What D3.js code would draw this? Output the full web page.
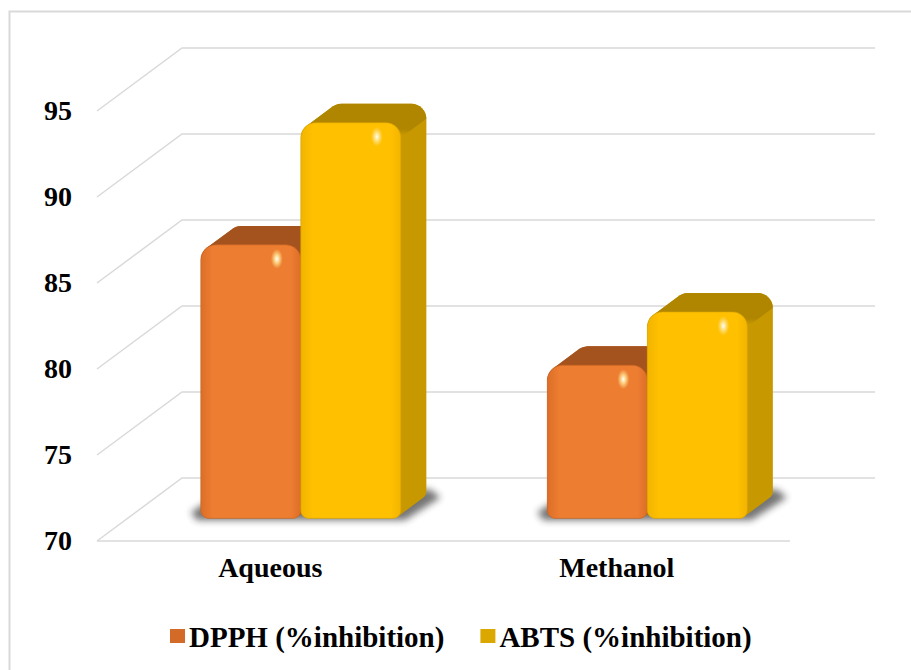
<!DOCTYPE html>
<html>
<head>
<meta charset="utf-8">
<script src="https://cdn.jsdelivr.net/npm/d3@7"></script>
<style>
  html, body { margin: 0; padding: 0; background: #ffffff; }
  svg { display: block; }
</style>
</head>
<body>
<svg id="chart" width="911" height="670"></svg>
<script>
// Antioxidant activity of the two extracts
const categories = ["Aqueous", "Methanol"];
const seriesNames = ["DPPH (%inhibition)", "ABTS (%inhibition)"];
const dpphValues = [85.9, 78.9];
const abtsValues = [93.0, 82.0];
const yTicks = [70, 75, 80, 85, 90, 95];

const seriesValues = [dpphValues, abtsValues];
const palette = [
  { front: "#ED7D31", edge: "#DC6E27", top: "#A4531E", side: "#B8611F", legend: "#D36A27" },
  { front: "#FFC000", edge: "#F2B400", top: "#B08600", side: "#C79800", legend: "#DAA800" }
];
const FONT = "'Liberation Serif', 'Times New Roman', Times, serif";

const svg = d3.select("#chart");
const defs = svg.append("defs");

// chart frame
svg.append("rect")
  .attr("x", 9.5).attr("y", 11.5).attr("width", 910).attr("height", 670)
  .attr("fill", "none").attr("stroke", "#d9d9d9").attr("stroke-width", 2);

// oblique projection: back wall plane, depth offset toward the viewer
const DX = 85, DY = 63;
const y = d3.scaleLinear().domain([70, 95]).range([478, 48]);
const x = d3.scaleBand().domain(categories).range([182, 875]);
const inner = d3.scaleBand().domain(seriesNames).range([-100, 100]);
const zFront = 0.64, zBack = 0.34;
const px = (xb, z) => xb - DX * z;
const py = (v, z) => y(v) + DY * z;

// gridlines: diagonal on the side wall plus horizontal on the back wall
const grid = svg.append("g").attr("fill", "none").attr("stroke", "#d9d9d9").attr("stroke-width", 1.5);
yTicks.forEach(t => {
  grid.append("path").attr("d", d3.line()([
    [px(182, 1), py(t, 1)], [182, y(t)], [875, y(t)]
  ]));
});
grid.append("line")
  .attr("x1", px(182, 1)).attr("y1", py(70, 1))
  .attr("x2", px(875, 1)).attr("y2", py(70, 1));

function styleLabels(sel, size) {
  sel.style("font-family", FONT).style("font-weight", "bold")
    .style("font-size", size + "px").style("fill", "#000");
}

// value axis labels on the front edge
const yAxis = svg.append("g")
  .attr("transform", `translate(72, ${DY})`)
  .call(d3.axisLeft(y).tickValues(yTicks).tickSize(0).tickPadding(0).tickFormat(d3.format("d")));
yAxis.select(".domain").remove();
styleLabels(yAxis.selectAll("text"), 28);

// category labels
const xAxis = svg.append("g")
  .attr("transform", `translate(${-DX}, ${py(70, 1)})`)
  .call(d3.axisBottom(x).tickSize(0).tickPadding(16));
xAxis.select(".domain").remove();
styleLabels(xAxis.selectAll("text"), 28);

// filters and gradients
const blur = defs.append("filter").attr("id", "soft").attr("x", "-20%").attr("y", "-50%")
  .attr("width", "140%").attr("height", "200%");
blur.append("feGaussianBlur").attr("stdDeviation", 3.5);

palette.forEach((p, i) => {
  const g = defs.append("linearGradient").attr("id", "face" + i)
    .attr("x1", 0).attr("x2", 1).attr("y1", 0).attr("y2", 0);
  g.append("stop").attr("offset", 0).attr("stop-color", p.edge);
  g.append("stop").attr("offset", 0.12).attr("stop-color", p.front);
  g.append("stop").attr("offset", 0.9).attr("stop-color", p.front);
  g.append("stop").attr("offset", 1).attr("stop-color", p.edge);
  const t = defs.append("linearGradient").attr("id", "top" + i)
    .attr("x1", 0).attr("x2", 0).attr("y1", 0).attr("y2", 1);
  t.append("stop").attr("offset", 0).attr("stop-color", p.top);
  t.append("stop").attr("offset", 0.75).attr("stop-color", p.top);
  t.append("stop").attr("offset", 1).attr("stop-color", d3.color(p.top).brighter(0.5));
});
const glint = defs.append("radialGradient").attr("id", "glint");
glint.append("stop").attr("offset", 0).attr("stop-color", "#ffffff").attr("stop-opacity", 1);
glint.append("stop").attr("offset", 0.4).attr("stop-color", "#ffeaa0").attr("stop-opacity", 0.8);
glint.append("stop").attr("offset", 1).attr("stop-color", "#ffe080").attr("stop-opacity", 0);

// outline points of a rounded front face
function arcPts(cx, cy, r, a0, a1, n = 8) {
  const pts = [];
  for (let k = 0; k <= n; k++) {
    const a = a0 + (a1 - a0) * k / n;
    pts.push([cx + r * Math.cos(a), cy + r * Math.sin(a)]);
  }
  return pts;
}
function frontOutline(x0, x1, yt, yb, rt, rb) {
  return [].concat(
    arcPts(x0 + rt, yt + rt, rt, Math.PI, 1.5 * Math.PI),
    arcPts(x1 - rt, yt + rt, rt, 1.5 * Math.PI, 2 * Math.PI),
    arcPts(x1 - rb, yb - rb, rb, 0, 0.5 * Math.PI),
    arcPts(x0 + rb, yb - rb, rb, 0.5 * Math.PI, Math.PI)
  );
}

const dxb = DX * (zFront - zBack), dyb = DY * (zFront - zBack);
const bars = svg.append("g");

categories.forEach((cat, ci) => {
  const cx = x(cat) + x.bandwidth() / 2;
  const g = bars.append("g");

  // soft floor shadow under the pair of columns
  const left = px(cx + inner.range()[0], zFront), right = px(cx + inner.range()[1], zFront);
  const yb = py(70, zFront);
  g.append("path")
    .attr("d", d3.line()([
      [left - 10, yb - 6], [left - 4, yb + 2], [right + 4, yb + 2],
      [right + dxb + 14, yb - dyb - 2], [right + dxb + 4, yb - dyb - 10], [left + dxb, yb - dyb - 10]
    ]) + "Z")
    .attr("fill", "#2a2a2a").attr("opacity", 0.65).attr("filter", "url(#soft)");

  seriesNames.forEach((s, si) => {
    const v = seriesValues[si][ci];
    const p = palette[si];
    const x0 = px(cx + inner(s), zFront);
    const x1 = x0 + inner.bandwidth();
    const yt = py(v, zFront);
    const rt = 15, rb = 8;
    const outline = frontOutline(x0, x1, yt, yb, rt, rb);
    const shifted = outline.map(([a, b]) => [a + dxb, b - dyb]);

    // side silhouette
    g.append("path")
      .attr("d", "M" + d3.polygonHull(outline.concat(shifted)).join("L") + "Z")
      .attr("fill", p.side);

    // top face
    const topPts = outline.filter(q => q[1] <= yt + rt + 0.01);
    const topShift = topPts.map(([a, b]) => [a + dxb, b - dyb]);
    g.append("path")
      .attr("d", "M" + d3.polygonHull(topPts.concat(topShift)).join("L") + "Z")
      .attr("fill", `url(#top${si})`);

    // front face
    g.append("path")
      .attr("d", "M" + outline.join("L") + "Z")
      .attr("fill", `url(#face${si})`)
      .attr("stroke", d3.color(p.edge).darker(0.3)).attr("stroke-width", 0.6);

    // specular highlight near the top corner
    g.append("ellipse")
      .attr("cx", x1 - 24).attr("cy", yt + 14)
      .attr("rx", 6).attr("ry", 10)
      .attr("fill", "url(#glint)");
  });
});

// legend
const legend = svg.append("g");
let lx = 170;
seriesNames.forEach((s, si) => {
  legend.append("rect")
    .attr("x", lx).attr("y", 629).attr("width", 15).attr("height", 14)
    .attr("fill", palette[si].legend);
  const t = legend.append("text")
    .attr("x", lx + 19).attr("y", 647)
    .text(s);
  styleLabels(t, 29);
  lx += 19 + t.node().getComputedTextLength() + 36;
});
</script>
</body>
</html>
